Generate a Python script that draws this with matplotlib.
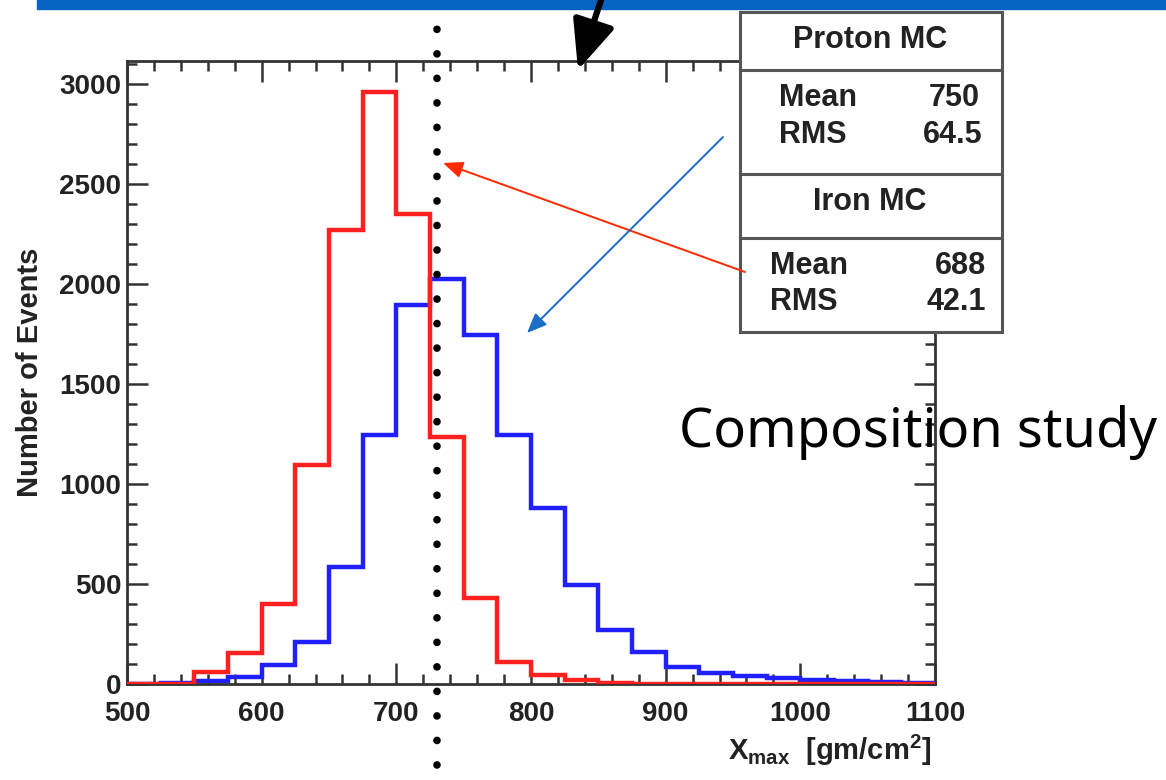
import numpy as np
import matplotlib
matplotlib.use('Agg')
import matplotlib.pyplot as plt
from matplotlib.patches import Rectangle, FancyArrowPatch
from matplotlib.lines import Line2D
from matplotlib.transforms import blended_transform_factory
from matplotlib.ticker import MultipleLocator

# histogram data, bins of 25 gm/cm2 from 500 to 1100
edges = np.arange(500, 1101, 25)
iron = [0, 0, 60, 155, 400, 1095, 2270, 2960, 2350, 1235, 430, 110,
        45, 20, 5, 0, 0, 0, 0, 0, 0, 0, 0, 0]
proton = [0, 5, 15, 35, 95, 210, 585, 1245, 1895, 2025, 1745, 1245,
          880, 495, 270, 160, 85, 55, 40, 30, 20, 15, 10, 5]

proton_stats = ['750', '64.5']
iron_stats = ['688', '42.1']
cut_x = 730

plt.rcParams['mathtext.fontset'] = 'custom'
plt.rcParams['mathtext.bf'] = 'Liberation Sans:bold'
plt.rcParams['mathtext.rm'] = 'Liberation Sans:bold'

W, H = 1166, 780
fig = plt.figure(figsize=(W / 100, H / 100), dpi=100)
ax = fig.add_axes([127 / W, 1 - 684 / H, (935 - 127) / W, (684 - 61) / H])

ax.stairs(iron, edges, color='#ff2020', lw=3.2, baseline=None, zorder=3)
ax.stairs(proton, edges, color='#2020ff', lw=3.2, baseline=None, zorder=2)

ax.set_xlim(500, 1100)
ax.set_ylim(0, 3115)
ax.xaxis.set_major_locator(MultipleLocator(100))
ax.xaxis.set_minor_locator(MultipleLocator(20))
ax.yaxis.set_major_locator(MultipleLocator(500))
ax.yaxis.set_minor_locator(MultipleLocator(100))
ax.tick_params(which='both', direction='in', top=True, right=True,
               color='#333333', width=1.8)
ax.tick_params(which='major', length=15, labelsize=20)
ax.tick_params(axis='x', which='major', pad=12)
ax.tick_params(axis='y', which='major', pad=4)
ax.tick_params(which='minor', length=7)
for lab in ax.get_xticklabels() + ax.get_yticklabels():
    lab.set_fontfamily('Liberation Sans')
    lab.set_fontweight('bold')
    lab.set_color('#222222')
# the "0" sits just above the x labels, as in the original
ax.get_yticklabels()[0].set_verticalalignment('center_baseline')
for sp in ax.spines.values():
    sp.set_linewidth(2)
    sp.set_color('#333333')

ax.set_ylabel('Number of Events', fontsize=21, fontweight='bold',
              family='Liberation Sans', color='#222222', labelpad=11)
fig.text(931 / W, 1 - 750 / H, r'X$_{\mathbf{max}}$  [gm/cm$^{\mathbf{2}}$]',
         ha='right', va='center', fontsize=21, fontweight='bold',
         family='Liberation Sans', color='#222222')

# dotted cut line running through the whole figure height
tr = blended_transform_factory(ax.transData, fig.transFigure)
ax.add_line(Line2D([cut_x, cut_x], [1 - 765 / H, 1 - 17 / H], transform=tr,
                   clip_on=False, color='black', lw=5.5,
                   linestyle=(0, (0.01, 3.2)), dash_capstyle='round',
                   zorder=5))

# blue band at top
fig.patches.append(Rectangle((37 / W, 1 - 9 / H), 1 - 37 / W, 9 / H,
                             transform=fig.transFigure, color='#0563c1',
                             zorder=1))

# stats box
bx0, bx1 = 740, 1002
by0, by1 = 12, 332
fig.patches.append(Rectangle((bx0 / W, 1 - by1 / H), (bx1 - bx0) / W,
                             (by1 - by0) / H, transform=fig.transFigure,
                             facecolor='white', edgecolor='#555555', lw=2.2,
                             zorder=6))
for yy in [70, 174, 238]:
    fig.add_artist(Line2D([bx0 / W, bx1 / W], [1 - yy / H, 1 - yy / H],
                          color='#555555', lw=2.2, zorder=7))

tkw = dict(fontsize=22, fontweight='bold', family='Liberation Sans',
           color='#222222', va='center', zorder=8)
fig.text(870 / W, 1 - 40 / H, 'Proton MC', ha='center', **tkw)
fig.text(779 / W, 1 - 98 / H, 'Mean', ha='left', **tkw)
fig.text(980 / W, 1 - 98 / H, proton_stats[0], ha='right', **tkw)
fig.text(779 / W, 1 - 135 / H, 'RMS', ha='left', **tkw)
fig.text(982 / W, 1 - 135 / H, proton_stats[1], ha='right', **tkw)
fig.text(870 / W, 1 - 202 / H, 'Iron MC', ha='center', **tkw)
fig.text(770 / W, 1 - 266 / H, 'Mean', ha='left', **tkw)
fig.text(986 / W, 1 - 266 / H, iron_stats[0], ha='right', **tkw)
fig.text(770 / W, 1 - 302 / H, 'RMS', ha='left', **tkw)
fig.text(986 / W, 1 - 302 / H, iron_stats[1], ha='right', **tkw)

# arrows
def fig_arrow(p0, p1, color, lw, head):
    a = FancyArrowPatch((p0[0] / W, 1 - p0[1] / H), (p1[0] / W, 1 - p1[1] / H),
                        transform=fig.transFigure, color=color, lw=lw,
                        arrowstyle='-|>,head_length=%g,head_width=%g' % head,
                        mutation_scale=10, shrinkA=0, shrinkB=0, zorder=9)
    fig.patches.append(a)

fig_arrow((745, 272), (443, 163), '#ff2a00', 1.4, (1.2, 0.5))
fig_arrow((723, 137), (527, 333), '#1a6ec8', 1.4, (1.2, 0.5))
fig_arrow((601, 0), (578, 70), 'black', 4.5, (3.0, 1.3))

fig.text(679 / W, 1 - 432 / H, 'Composition study', fontsize=39,
         family='Noto Sans', color='black', ha='left', va='center', zorder=10)

fig.savefig('out.png', dpi=100)
